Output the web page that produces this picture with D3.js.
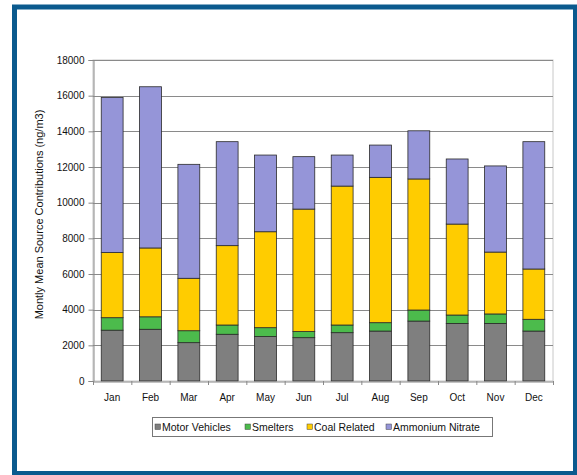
<!DOCTYPE html>
<html>
<head>
<meta charset="utf-8">
<script src="https://cdn.jsdelivr.net/npm/d3@7"></script>
<style>
  html, body { margin: 0; padding: 0; background: #fff; }
  svg { display: block; }
  text { font-family: "Liberation Sans", Arial, sans-serif; fill: #111; }
</style>
</head>
<body>
<svg id="chart" width="577" height="475"></svg>
<script>
// Monthly mean source contributions (ng/m3), stacked by source
const months = ["Jan","Feb","Mar","Apr","May","Jun","Jul","Aug","Sep","Oct","Nov","Dec"];
const sources = ["Motor Vehicles","Smelters","Coal Related","Ammonium Nitrate"];
const motorVehicles   = [2850, 2900, 2150, 2620, 2490, 2430, 2710, 2800, 3360, 3230, 3230, 2800];
const smelters        = [ 700,  700,  670,  520,  500,  340,  430,  470,  620,  470,  530,  660];
const coalRelated     = [3650, 3860, 2940, 4450, 5380, 6870, 7790, 8150, 7350, 5100, 3470, 2820];
const ammoniumNitrate = [8700, 9040, 6390, 5830, 4300, 2940, 1740, 1810, 2700, 3650, 4830, 7140];
const yTicks = [0, 2000, 4000, 6000, 8000, 10000, 12000, 14000, 16000, 18000];
const colors = ["#7f7f7f", "#4cbb4c", "#ffcc00", "#9595d8"];

const svg = d3.select("#chart");
const font = "'Liberation Sans', Arial, sans-serif";

// Outer frame
svg.append("rect").attr("x", 14.5).attr("y", 7).attr("width", 561).attr("height", 466.5)
  .attr("fill", "#fff").attr("stroke", "#0b5a8e").attr("stroke-width", 5);

const plot = { left: 93, right: 553, top: 60, bottom: 381 };

const rows = months.map((m, i) => ({
  month: m,
  "Motor Vehicles": motorVehicles[i],
  "Smelters": smelters[i],
  "Coal Related": coalRelated[i],
  "Ammonium Nitrate": ammoniumNitrate[i]
}));
const stacked = d3.stack().keys(sources)(rows);

const x = d3.scaleBand().domain(months).range([plot.left, plot.right]).paddingInner(0.43).paddingOuter(0.215);
const xCat = d3.scaleBand().domain(months).range([plot.left, plot.right]);
const y = d3.scaleLinear().domain([0, 18000]).range([plot.bottom, plot.top]);

// Plot area border
svg.append("rect").attr("x", plot.left).attr("y", plot.top)
  .attr("width", plot.right - plot.left).attr("height", plot.bottom - plot.top)
  .attr("fill", "none").attr("stroke", "#c8c8c8").attr("stroke-width", 1);

// Gridlines
svg.append("g").selectAll("line").data(yTicks.filter(d => d > 0)).join("line")
  .attr("x1", plot.left).attr("x2", plot.right)
  .attr("y1", d => Math.round(y(d)) + 0.5).attr("y2", d => Math.round(y(d)) + 0.5)
  .attr("stroke", "#8a8a8a").attr("stroke-width", 1);

// Y axis
const yAxis = svg.append("g").attr("transform", `translate(${plot.left + 0.5},0)`)
  .call(d3.axisLeft(y).tickValues(yTicks).tickSize(5).tickPadding(4).tickFormat(d3.format("d")));
yAxis.select(".domain").attr("stroke", "#888");
yAxis.selectAll(".tick line").attr("stroke", "#888");
yAxis.selectAll("text").attr("font-size", 10).attr("fill", "#222").style("font-family", font);

// Bars
svg.append("g").selectAll("g").data(stacked).join("g")
  .attr("fill", (d, i) => colors[i])
  .selectAll("rect").data(d => d).join("rect")
  .attr("x", d => x(d.data.month))
  .attr("width", x.bandwidth())
  .attr("y", d => y(d[1]))
  .attr("height", d => y(d[0]) - y(d[1]))
  .attr("stroke", "#2a2a2a").attr("stroke-width", 0.8);

// X axis
const xAxis = svg.append("g").attr("transform", `translate(0,${plot.bottom + 0.5})`)
  .call(d3.axisBottom(xCat).tickSize(0).tickPadding(12));
xAxis.select(".domain").attr("stroke", "#888");
xAxis.selectAll("text").attr("font-size", 10).attr("fill", "#222").style("font-family", font);
svg.append("g").selectAll("line").data(months.concat(["end"])).join("line")
  .attr("x1", (d, i) => plot.left + i * xCat.step() + 0.5)
  .attr("x2", (d, i) => plot.left + i * xCat.step() + 0.5)
  .attr("y1", plot.bottom).attr("y2", plot.bottom + 4)
  .attr("stroke", "#888");

// Y axis title
svg.append("text")
  .attr("transform", `translate(43,${(plot.top + plot.bottom) / 2 - 6}) rotate(-90)`)
  .attr("text-anchor", "middle").attr("font-size", 11).attr("fill", "#222")
  .text("Montly Mean Source Contributions (ng/m3)");

// Legend
const legend = svg.append("g");
legend.append("rect").attr("x", 152.5).attr("y", 417.5).attr("width", 340).attr("height", 19)
  .attr("fill", "#fff").attr("stroke", "#777");
const legendX = [155, 245, 307, 386];
sources.forEach((s, i) => {
  legend.append("rect").attr("x", legendX[i]).attr("y", 424).attr("width", 5.5).attr("height", 5.5)
    .attr("fill", colors[i]).attr("stroke", "#444").attr("stroke-width", 0.5);
  legend.append("text").attr("x", legendX[i] + 7).attr("y", 431)
    .attr("font-size", 10.5).attr("fill", "#222").text(s);
});
</script>
</body>
</html>
